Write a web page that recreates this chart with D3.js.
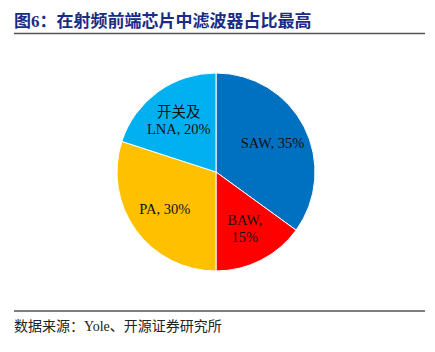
<!DOCTYPE html>
<html lang="zh">
<head>
<meta charset="UTF-8">
<title>在射频前端芯片中滤波器占比最高</title>
<script src="https://d3js.org/d3.v7.min.js"></script>
<style>
  body { margin: 0; background: #fff; }
  svg { display: block; }
</style>
</head>
<body>
<svg width="435" height="352"></svg>
<script>
const categories = ["SAW", "BAW", "PA", "开关及LNA"];
const shares = [35, 15, 30, 20];
const labelLines = [["SAW, 35%"], ["BAW,", "15%"], ["PA, 30%"], ["开关及", "LNA, 20%"]];
const colors = ["#0070C0", "#FF0000", "#FFC000", "#00B0F0"];

const svg = d3.select("svg");
const serif = "'Liberation Serif', 'Noto Sans CJK SC', serif";

// title
svg.append("text")
   .attr("x", 14).attr("y", 27)
   .attr("font-family", "'Liberation Serif', 'Noto Sans CJK SC', sans-serif")
   .attr("font-weight", "bold")
   .attr("font-size", 17)
   .attr("fill", "#1B2C86")
   .text("图6：在射频前端芯片中滤波器占比最高");

svg.append("line")
   .attr("x1", 14).attr("x2", 425).attr("y1", 33.5).attr("y2", 33.5)
   .attr("stroke", "#555").attr("stroke-width", 1.5);

svg.append("line")
   .attr("x1", 14).attr("x2", 425).attr("y1", 311).attr("y2", 311)
   .attr("stroke", "#555").attr("stroke-width", 1.5);

svg.append("text")
   .attr("x", 14).attr("y", 331)
   .attr("font-family", serif)
   .attr("font-size", 14)
   .attr("fill", "#222")
   .text("数据来源：Yole、开源证券研究所");

// pie
const data = categories.map((c, i) => ({ name: c, value: shares[i], lines: labelLines[i], color: colors[i] }));
const radius = 99;
const g = svg.append("g").attr("transform", "translate(216,172)");

const pie = d3.pie().value(d => d.value).sort(null);
const arc = d3.arc().innerRadius(0).outerRadius(radius);
const labelArc = d3.arc().innerRadius(radius * 0.64).outerRadius(radius * 0.64);

const arcs = pie(data);

g.selectAll("path")
 .data(arcs)
 .enter()
 .append("path")
 .attr("d", arc)
 .attr("fill", d => d.data.color)
 .attr("stroke", "#fff")
 .attr("stroke-width", 1);

const labels = g.selectAll(".label")
 .data(arcs)
 .enter()
 .append("text")
 .attr("class", "label")
 .attr("text-anchor", "middle")
 .attr("font-family", serif)
 .attr("font-size", 14.5)
 .attr("fill", "#111")
 .attr("transform", d => `translate(${labelArc.centroid(d)})`);

labels.selectAll("tspan")
 .data(d => d.data.lines.map((t, i, a) => ({ t, i, n: a.length })))
 .enter()
 .append("tspan")
 .attr("x", 0)
 .attr("y", d => (d.i - (d.n - 1) / 2) * 17 + 5)
 .text(d => d.t);
</script>
</body>
</html>
